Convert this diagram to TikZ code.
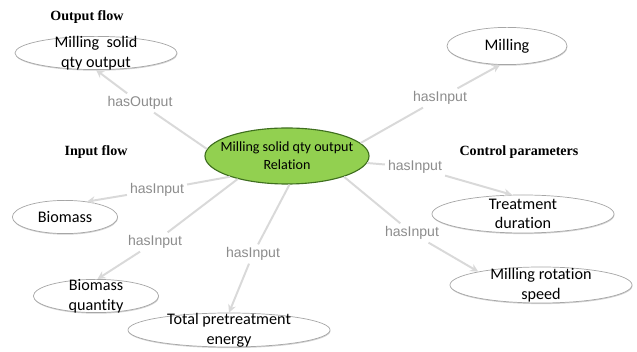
\documentclass[tikz,border=0pt]{standalone}
\usepackage{fontspec}
\setmainfont{Carlito}[Ligatures=NoCommon]
\newfontfamily\arialfont{Liberation Sans}
\newfontfamily\timesfont{Liberation Serif}
\usetikzlibrary{arrows.meta,positioning,shapes.geometric,shadows}
\definecolor{relgreen}{HTML}{92D050}
\definecolor{reledge}{HTML}{3F6F1F}
\definecolor{ovalline}{HTML}{A6A6A6}
\definecolor{linkgray}{HTML}{D9D9D9}
\definecolor{labelgray}{HTML}{8C8C8C}
\tikzset{
  oval/.style={ellipse,draw=ovalline,fill=white,line width=0.5pt,inner sep=0pt,
               drop shadow={shadow xshift=0.3pt,shadow yshift=-0.8pt,
                            opacity=0.35,fill=gray}},
  reloval/.style={ellipse,draw=reledge,fill=relgreen,line width=0.8pt,
                   inner sep=0pt},
  ovaltext/.style={align=center,inner sep=0pt,
                   font=\fontsize{11.5}{14}\selectfont},
  heading/.style={font=\timesfont\bfseries\fontsize{10}{12}\selectfont},
  linklabel/.style={font=\arialfont\fontsize{10}{12}\selectfont,
                    text=labelgray,inner sep=2pt},
  link/.style={draw=linkgray,line width=1.4pt},
  linkarr/.style={link,-{Stealth[length=2mm,width=2mm]}}
}
\begin{document}
\begin{tikzpicture}[x=0.025cm,y=-0.025cm]
  \path[use as bounding box] (0,0) rectangle (637,352);

  % headings
  \node[heading] (hOut) at (87,17) {Output flow};
  \node[heading] (hIn) at (96,152) {Input flow};
  \node[heading] (hCtrl) at (519,152) {Control parameters};

  % ovals
  \node[reloval,minimum width=4.1cm,minimum height=1.4cm] (relE) at (287,156) {};
  \node[ovaltext,font=\fontsize{10}{13}\selectfont] (relT) at (relE)
    {Milling solid qty output\\Relation};
  \node[oval,minimum width=4.05cm,minimum height=0.83cm] (outE) at (96,53) {};
  \node[ovaltext] (outT) at (outE) {Milling\ \ solid\\qty output};
  \node[oval,minimum width=2.63cm,minimum height=0.83cm] (bioE) at (65,217) {};
  \node[ovaltext] (bioT) at (bioE) {Biomass};
  \node[oval,minimum width=3.13cm,minimum height=0.83cm] (bqE) at (96,296) {};
  \node[ovaltext] (bqT) at (bqE) {Biomass\\quantity};
  \node[oval,minimum width=5.05cm,minimum height=0.85cm] (totE) at (229,330) {};
  \node[ovaltext] (totT) at (totE) {Total pretreatment\\energy};
  \node[oval,minimum width=3.0cm,minimum height=0.93cm] (milE) at (507,46) {};
  \node[ovaltext] (milT) at (milE) {Milling};
  \node[oval,minimum width=4.55cm,minimum height=0.95cm] (treE) at (523,214) {};
  \node[ovaltext] (treT) at (treE) {Treatment\\duration};
  \node[oval,minimum width=4.55cm,minimum height=0.9cm] (rotE) at (541,285) {};
  \node[ovaltext] (rotT) at (rotE) {Milling rotation\\speed};

  % link labels
  \node[linklabel] (lOut) at (140,103) {hasOutput};
  \node[linklabel] (lBio) at (157,190) {hasInput};
  \node[linklabel] (lBq) at (155,242) {hasInput};
  \node[linklabel] (lTot) at (253,254) {hasInput};
  \node[linklabel] (lMil) at (440,98) {hasInput};
  \node[linklabel] (lTre) at (415,167) {hasInput};
  \node[linklabel] (lRot) at (412,233) {hasInput};

  % links
  \draw[link] (relE.175) -- (lOut);
  \draw[linkarr] (lOut) -- (outE.south);
  \draw[link] (relE.200) -- (lBio);
  \draw[linkarr] (lBio) -- (bioE.35);
  \draw[link] (relE.205) -- (lBq);
  \draw[linkarr] (lBq) -- (bqE.85);
  \draw[link] (relE.275) -- (lTot);
  \draw[linkarr] (lTot) -- (totE.north);
  \draw[link] (relE.10) -- (lMil);
  \draw[linkarr] (lMil) -- (milE.250);
  \draw[link] (relE.355) -- (lTre);
  \draw[linkarr] (lTre) -- (treE.120);
  \draw[link] (relE.340) -- (lRot);
  \draw[linkarr] (lRot) -- (rotE.168);
\end{tikzpicture}
\end{document}
